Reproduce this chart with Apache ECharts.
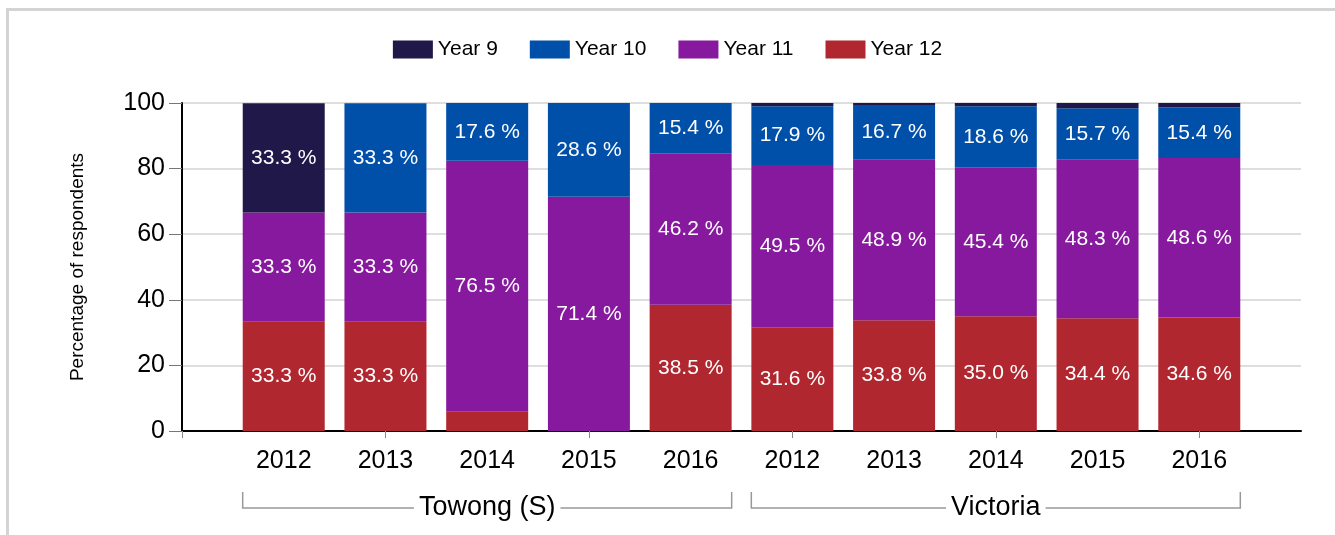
<!DOCTYPE html>
<html>
<head>
<meta charset="utf-8">
<script src="https://cdn.jsdelivr.net/npm/echarts@6/dist/echarts.min.js"></script>
<style>
  html, body { margin: 0; padding: 0; background: #fff; }
  #main { width: 1335px; height: 535px; }
</style>
</head>
<body>
<div id="main"></div>
<script>
// categories: two regions, five years each
var years = ["2012", "2013", "2014", "2015", "2016", "2012", "2013", "2014", "2015", "2016"];
var groups = ["Towong (S)", "Victoria"];
var groupSize = 5;

// percentage of respondents
var year9  = [33.3, 0,    0,    0,    0,    1.0,  0.6,  1.0,  1.6,  1.4];
var year10 = [0,    33.3, 17.6, 28.6, 15.4, 17.9, 16.7, 18.6, 15.7, 15.4];
var year11 = [33.3, 33.3, 76.5, 71.4, 46.2, 49.5, 48.9, 45.4, 48.3, 48.6];
var year12 = [33.3, 33.3, 5.9,  0,    38.5, 31.6, 33.8, 35.0, 34.4, 34.6];

var yTicks = [0, 20, 40, 60, 80, 100];
var xTicks = [-1, 1, 3, 5, 7, 9];

var font = "'Liberation Sans', Arial, sans-serif";
var chartDom = document.getElementById("main");
var myChart = echarts.init(chartDom);

// value first so that stacking runs on the y value, index second for x
function toPoints(arr) {
  return arr.map(function (v, i) { return [v, i]; });
}

function makeSeries(name, arr, color) {
  return {
    name: name,
    type: "bar",
    stack: "total",
    xAxisIndex: 0,
    barWidth: 82,
    encode: { x: 1, y: 0 },
    itemStyle: { color: color },
    label: {
      show: true,
      position: "inside",
      color: "#fff",
      fontFamily: font,
      fontSize: 21,
      formatter: function (p) {
        return p.value[0] >= 10 ? p.value[0].toFixed(1) + " %" : "";
      }
    },
    emphasis: { disabled: true },
    data: toPoints(arr)
  };
}

var option = {
  animation: false,
  backgroundColor: "#fff",
  textStyle: { fontFamily: font },
  legend: {
    top: 34,
    left: "center",
    icon: "rect",
    itemWidth: 40,
    itemHeight: 18,
    itemGap: 32,
    textStyle: { fontSize: 21, color: "#000", fontFamily: font },
    data: ["Year 9", "Year 10", "Year 11", "Year 12"]
  },
  grid: { left: 182, right: 34, top: 103, bottom: 104 },
  xAxis: [
    {
      type: "value",
      min: -1,
      max: 10,
      interval: 1,
      position: "bottom",
      axisLine: { show: true, onZero: false, lineStyle: { color: "#000", width: 2 } },
      axisTick: { show: true, length: 7, customValues: xTicks, lineStyle: { color: "#888", width: 1 } },
      axisLabel: { show: false },
      splitLine: { show: false }
    },
    {
      type: "value",
      min: -1,
      max: 10,
      interval: 1,
      position: "bottom",
      axisLine: { show: false, onZero: false },
      axisTick: { show: false },
      splitLine: { show: false },
      axisLabel: {
        show: true,
        margin: 18,
        fontSize: 25,
        color: "#000",
        fontFamily: font,
        formatter: function (v) {
          return years[v] !== undefined ? years[v] : "";
        }
      }
    }
  ],
  yAxis: {
    type: "value",
    min: 0,
    max: 100,
    interval: 20,
    name: "Percentage of respondents",
    nameLocation: "middle",
    nameGap: 95,
    nameTextStyle: { fontSize: 19, color: "#000", fontFamily: font },
    axisLine: { show: true, onZero: false, lineStyle: { color: "#000", width: 2 } },
    axisTick: { show: true, length: 13, lineStyle: { color: "#777", width: 1 } },
    axisLabel: {
      margin: 17,
      fontSize: 25,
      color: "#000",
      fontFamily: font,
      formatter: function (v) { return yTicks.indexOf(v) >= 0 ? String(v) : ""; }
    },
    splitLine: { show: true, lineStyle: { color: "#dedede", width: 2 } }
  },
  series: [
    makeSeries("Year 12", year12, "#b0272f"),
    makeSeries("Year 11", year11, "#86199d"),
    makeSeries("Year 10", year10, "#0050aa"),
    makeSeries("Year 9", year9, "#21184a")
  ]
};

myChart.setOption(option);

// group brackets under the year labels, placed from the axis scale
var half = 0.4035;
var yBase = myChart.convertToPixel({ yAxisIndex: 0 }, 0);
var yLine = yBase + 77;
var yTop = yBase + 61;
var graphics = [
  {
    type: "rect",
    shape: { x: 7.5, y: 9.5, width: 1400, height: 600 },
    style: { fill: "none", stroke: "#d4d4d4", lineWidth: 3 },
    silent: true
  }
];
groups.forEach(function (g, gi) {
  var x0 = myChart.convertToPixel({ xAxisIndex: 0 }, gi * groupSize - half);
  var x1 = myChart.convertToPixel({ xAxisIndex: 0 }, gi * groupSize + groupSize - 1 + half);
  graphics.push({
    type: "polyline",
    shape: { points: [[x0, yTop], [x0, yLine], [x1, yLine], [x1, yTop]] },
    style: { stroke: "#999", lineWidth: 1.5, fill: "none" },
    silent: true
  });
  graphics.push({
    type: "text",
    x: (x0 + x1) / 2,
    y: yLine,
    style: {
      text: g,
      fontSize: 27,
      fontFamily: font,
      fill: "#000",
      align: "center",
      verticalAlign: "middle",
      backgroundColor: "#fff",
      padding: [0, 5]
    },
    silent: true
  });
});
myChart.setOption({ graphic: graphics });
</script>
</body>
</html>
